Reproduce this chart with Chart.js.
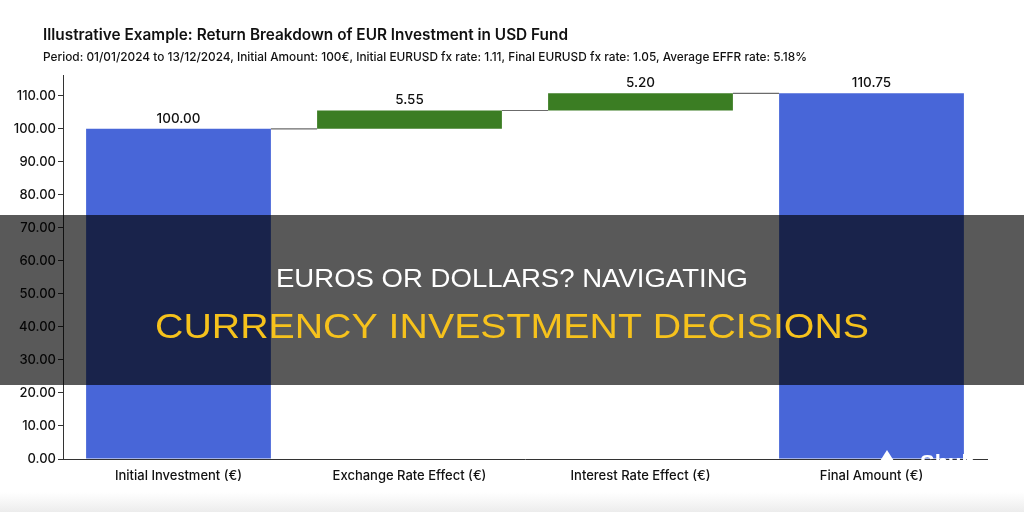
<!DOCTYPE html>
<html>
<head>
<meta charset="utf-8">
<script src="https://cdn.jsdelivr.net/npm/chart.js@4.4.1/dist/chart.umd.min.js"></script>
<style>
    html, body { margin: 0; padding: 0; background: #fff; }
    #wrap { width: 1024px; height: 512px; position: relative; }
</style>
</head>
<body>
<div id="wrap"><canvas id="waterfall"></canvas></div>
<script>
'use strict';

const categories = ['Initial Investment (€)', 'Exchange Rate Effect (€)', 'Interest Rate Effect (€)', 'Final Amount (€)'];
const amounts = [100.00, 5.55, 5.20, 110.75];
const kinds = ['total', 'delta', 'delta', 'total'];
const yTicks = [0, 10, 20, 30, 40, 50, 60, 70, 80, 90, 100, 110];

const titleText = 'Illustrative Example: Return Breakdown of EUR Investment in USD Fund';
const subtitleText = 'Period: 01/01/2024 to 13/12/2024, Initial Amount: 100€, Initial EURUSD fx rate: 1.11, Final EURUSD fx rate: 1.05, Average EFFR rate: 5.18%';
const bannerLines = ['EUROS OR DOLLARS? NAVIGATING', 'CURRENCY INVESTMENT DECISIONS'];

const BLUE = '#4866d8';
const GREEN = '#3b7d23';

// floating bars [start, end] built from the amounts
function buildRanges() {
    let running = 0;
    return amounts.map((v, i) => {
        if (kinds[i] === 'total') {
            running = v;
            return [0, v];
        }
        const r = [running, running + v];
        running += v;
        return r;
    });
}
const ranges = buildRanges();

// draw text stretched/squeezed to an exact width
function fitText(ctx, text, left, baseline, width) {
    const w = ctx.measureText(text).width;
    ctx.save();
    ctx.translate(left, baseline);
    ctx.scale(width / w, 1);
    ctx.textAlign = 'left';
    ctx.fillText(text, 0, 0);
    ctx.restore();
}

const waterfallExtras = {
    id: 'waterfallExtras',
    beforeDraw(chart) {
        const ctx = chart.ctx;
        ctx.save();
        ctx.fillStyle = '#fff';
        ctx.fillRect(0, 0, chart.width, chart.height);
        const g = ctx.createLinearGradient(0, 492, 0, 512);
        g.addColorStop(0, 'rgba(238,238,238,0)');
        g.addColorStop(1, 'rgba(236,236,236,1)');
        ctx.fillStyle = g;
        ctx.fillRect(0, 492, chart.width, 20);
        ctx.restore();
    },
    afterDatasetsDraw(chart) {
        const ctx = chart.ctx;
        const meta = chart.getDatasetMeta(0);
        const y = chart.scales.y;
        ctx.save();

        // connectors between bars
        ctx.strokeStyle = '#6b6b6b';
        ctx.lineWidth = 1.2;
        for (let i = 0; i < meta.data.length - 1; i++) {
            const a = meta.data[i], b = meta.data[i + 1];
            const level = y.getPixelForValue(ranges[i][1]);
            ctx.beginPath();
            ctx.moveTo(a.x + a.width / 2, level);
            ctx.lineTo(b.x - b.width / 2, level);
            ctx.stroke();
        }

        // value labels
        ctx.fillStyle = '#111';
        ctx.font = '500 13.5px Inter, "Open Sans", sans-serif';
        ctx.textAlign = 'center';
        ctx.textBaseline = 'alphabetic';
        meta.data.forEach((bar, i) => {
            const top = y.getPixelForValue(ranges[i][1]);
            ctx.fillText(amounts[i].toFixed(2), bar.x, top - 6);
        });

        ctx.restore();
    },
    afterDraw(chart) {
        const ctx = chart.ctx;
        ctx.save();
        ctx.textBaseline = 'alphabetic';

        // titles
        ctx.fillStyle = '#111';
        ctx.font = '600 15.5px Inter, sans-serif';
        fitText(ctx, titleText, 43, 40, 525);
        ctx.font = '500 12px Inter, sans-serif';
        fitText(ctx, subtitleText, 43, 61, 764);

        // banner overlay
        ctx.fillStyle = 'rgba(0,0,0,0.65)';
        ctx.fillRect(0, 215, chart.width, 170);
        ctx.fillStyle = '#ffffff';
        ctx.font = '25px "Liberation Sans", Arial, sans-serif';
        fitText(ctx, bannerLines[0], 276, 287, 472);
        ctx.fillStyle = '#f6c21c';
        ctx.font = '34.5px "Liberation Sans", Arial, sans-serif';
        fitText(ctx, bannerLines[1], 155, 338, 714);

        // watermark
        ctx.fillStyle = '#ffffff';
        ctx.beginPath();
        ctx.moveTo(887, 450);
        ctx.lineTo(880, 461);
        ctx.lineTo(894, 461);
        ctx.closePath();
        ctx.fill();
        ctx.save();
        ctx.beginPath();
        ctx.rect(900, 440, 100, 21);
        ctx.clip();
        ctx.font = 'bold 22px "Liberation Sans", sans-serif';
        ctx.textAlign = 'left';
        ctx.fillText('Shub', 920, 470);
        ctx.restore();

        ctx.restore();
    }
};

const ctx = document.getElementById('waterfall').getContext('2d');
new Chart(ctx, {
    type: 'bar',
    data: {
        labels: categories,
        datasets: [{
            data: ranges,
            backgroundColor: kinds.map(k => k === 'total' ? BLUE : GREEN),
            borderWidth: 0,
            barPercentage: 1.0,
            categoryPercentage: 0.8
        }]
    },
    options: {
        responsive: true,
        maintainAspectRatio: false,
        animation: false,
        devicePixelRatio: 1,
        layout: { padding: { top: 75, right: 37, left: 0, bottom: 0 } },
        plugins: {
            legend: { display: false },
            tooltip: { enabled: false }
        },
        scales: {
            x: {
                grid: { display: false, drawOnChartArea: false, tickLength: 5, color: '#333' },
                border: { color: '#333', width: 1 },
                ticks: {
                    color: '#111',
                    font: { family: 'Inter', size: 13, weight: '500' },
                    padding: 4
                },
                afterFit(scale) { scale.height = 53; }
            },
            y: {
                min: 0,
                max: 116.3,
                afterBuildTicks(scale) { scale.ticks = yTicks.map(v => ({ value: v })); },
                grid: { drawOnChartArea: false, tickLength: 5, color: '#333' },
                border: { color: '#333', width: 1 },
                ticks: {
                    color: '#111',
                    font: { family: 'Inter', size: 13, weight: '500' },
                    padding: 2,
                    callback: v => Number(v).toFixed(2)
                },
                afterFit(scale) { scale.width = 63; }
            }
        }
    },
    plugins: [waterfallExtras]
});
</script>
</body>
</html>
